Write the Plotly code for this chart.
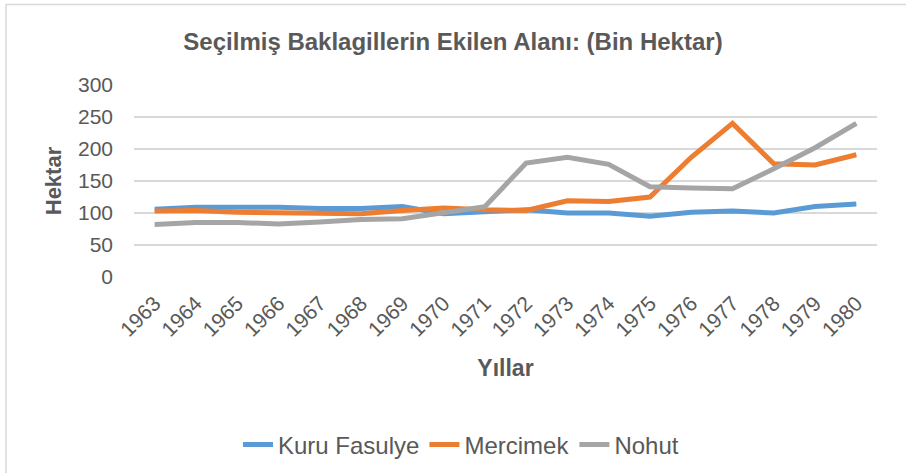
import plotly.graph_objects as go

years = [str(y) for y in range(1963, 1981)]
kuru_fasulye = [106, 109, 109, 109, 107, 107, 110, 99, 102, 105, 100, 100, 95, 101, 103, 100, 110, 114]
mercimek = [103, 104, 101, 100, 100, 99, 104, 108, 105, 104, 119, 118, 125, 187, 240, 177, 175, 191]
nohut = [82, 85, 85, 83, 86, 90, 91, 100, 110, 178, 187, 176, 141, 139, 138, 169, 202, 240]

series = [
    ("Kuru Fasulye", kuru_fasulye, "#5B9BD5"),
    ("Mercimek", mercimek, "#ED7D31"),
    ("Nohut", nohut, "#A5A5A5"),
]

FONT = "Liberation Sans, Arial, sans-serif"
TXT = "#595959"

fig = go.Figure()
for name, vals, color in series:
    fig.add_trace(go.Scatter(
        x=years, y=vals, name=name, mode="lines",
        line=dict(color=color, width=5),
    ))

fig.update_layout(
    width=906, height=473,
    margin=dict(l=134, r=29, t=85, b=196),
    paper_bgcolor="white", plot_bgcolor="white",
    font=dict(family=FONT, color=TXT),
    title=dict(
        text="<b>Seçilmiş Baklagillerin Ekilen Alanı: (Bin Hektar)</b>",
        x=0.5, xanchor="center", xref="container",
        y=1 - 42 / 473, yanchor="middle", yref="container",
        font=dict(size=24, color=TXT, family=FONT),
    ),
    xaxis=dict(
        type="category", range=[-0.5, len(years) - 0.5], automargin=False,
        tickangle=-45,
        tickfont=dict(size=21, color=TXT),
        showgrid=False, zeroline=False, showline=False,
        ticks="", ticklabelstandoff=9,
        title=dict(text="<b>Yıllar</b>", font=dict(size=23, color=TXT), standoff=20),
    ),
    yaxis=dict(
        range=[0, 300], tickvals=[0, 50, 100, 150, 200, 250, 300], automargin=False,
        tickfont=dict(size=21, color=TXT),
        showgrid=True, gridcolor="#D9D9D9", gridwidth=1.6,
        zeroline=False, showline=False, ticks="",
        ticklabelstandoff=20,
        title=dict(text="<b>Hektar</b>", font=dict(size=22, color=TXT), standoff=10),
    ),
    legend=dict(
        orientation="h",
        xref="container", x=461 / 906, xanchor="center",
        yref="container", y=(473 - 445) / 473, yanchor="middle",
        font=dict(size=24, color=TXT),
        bgcolor="rgba(0,0,0,0)",
    ),
    shapes=[dict(
        type="rect", xref="paper", yref="paper",
        x0=(6 - 134) / 743, x1=1.2, y0=-1.3, y1=1 + (85 - 4.5) / 192,
        line=dict(color="#D9D9D9", width=1.5), fillcolor="rgba(0,0,0,0)",
        layer="below",
    )],
)

fig.write_html(
    "out.html",
    config={"displayModeBar": False},
    post_script="document.body.style.margin='0';document.body.style.overflow='hidden';",
)
